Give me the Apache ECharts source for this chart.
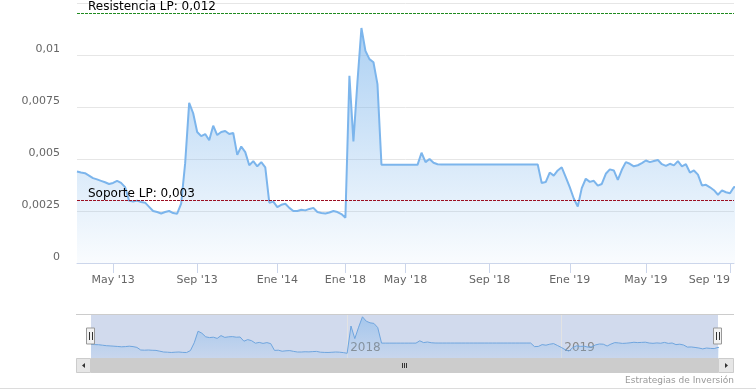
<!DOCTYPE html>
<html><head><meta charset="utf-8">
<script src="https://cdn.jsdelivr.net/npm/echarts@6/dist/echarts.min.js"></script>
<style>html,body{margin:0;padding:0;background:#fff}#c{width:756px;height:392px}</style>
</head><body><div id="c"></div>
<script>
// ---- data ----
const dates = [
 '2013-03-06','2013-03-12','2013-03-18','2013-03-24','2013-03-30','2013-04-05','2013-04-11','2013-04-17','2013-04-23','2013-05-01',
 '2013-05-07','2013-05-13','2013-05-19','2013-05-24','2013-05-30','2013-06-05','2013-06-11','2013-06-17','2013-06-23','2013-06-29',
 '2013-07-04','2013-07-10','2013-07-16','2013-07-22','2013-07-28','2013-08-03','2013-08-08','2013-08-14','2013-08-20','2013-08-26',
 '2013-09-01','2013-09-07','2013-09-13','2013-09-19','2013-09-25','2013-10-01','2013-10-07','2013-10-13','2013-10-19','2013-10-25',
 '2013-10-31','2013-11-06','2013-11-12','2013-11-18','2013-11-24','2013-11-30','2013-12-06','2013-12-12','2013-12-18','2013-12-24',
 '2014-01-01','2014-01-07','2014-01-13','2014-01-19','2014-01-25','2014-01-31','2014-02-06','2014-02-12','2014-02-18','2014-02-24',
 '2014-03-02','2014-03-08','2014-03-14','2014-03-20','2014-03-26','2014-04-01','2014-04-07',
 '2018-01-01','2018-01-09','2018-01-17','2018-01-25','2018-02-02','2018-02-10','2018-02-18','2018-02-26','2018-03-06','2018-03-14',
 '2018-03-22','2018-03-30','2018-04-07','2018-04-15','2018-04-23','2018-05-01',
 '2018-05-07','2018-05-13','2018-05-19','2018-05-25','2018-05-31','2018-06-06','2018-06-12','2018-06-18','2018-06-24','2018-06-30',
 '2018-07-06','2018-07-12','2018-07-18','2018-07-24','2018-07-30','2018-08-05','2018-08-11','2018-08-17','2018-08-23','2018-08-29',
 '2018-09-01','2018-09-07','2018-09-13','2018-09-19','2018-09-25','2018-10-01','2018-10-07','2018-10-13','2018-10-19','2018-10-25',
 '2018-10-31','2018-11-06','2018-11-12','2018-11-18','2018-11-24','2018-11-30','2018-12-06','2018-12-12','2018-12-18','2018-12-24',
 '2019-01-01','2019-01-07','2019-01-13','2019-01-19','2019-01-26','2019-02-01','2019-02-07','2019-02-13','2019-02-20','2019-02-26',
 '2019-03-04','2019-03-10','2019-03-17','2019-03-23','2019-03-29','2019-04-04','2019-04-11','2019-04-17','2019-04-23','2019-05-01',
 '2019-05-07','2019-05-13','2019-05-19','2019-05-25','2019-05-31','2019-06-06','2019-06-12','2019-06-18','2019-06-24','2019-06-30',
 '2019-07-06','2019-07-12','2019-07-18','2019-07-24','2019-07-30','2019-08-05','2019-08-11','2019-08-17','2019-08-23','2019-08-28',
 '2019-09-01','2019-09-05'
];
const values = [
 0.00440,0.00435,0.00432,0.00420,0.00408,0.00402,0.00395,0.00388,0.00380,0.00385,
 0.00395,0.00385,0.00365,0.00300,0.00295,0.00300,0.00293,0.00290,0.00270,0.00250,
 0.00245,0.00238,0.00245,0.00250,0.00240,0.00237,0.00285,0.00480,0.00770,0.00720,
 0.00630,0.00610,0.00620,0.00590,0.00660,0.00615,0.00630,0.00635,0.00620,0.00625,
 0.00520,0.00560,0.00533,0.00470,0.00490,0.00465,0.00485,0.00460,0.00290,0.00295,
 0.00269,0.00280,0.00285,0.00265,0.00250,0.00250,0.00256,0.00253,0.00260,0.00265,
 0.00245,0.00240,0.00238,0.00243,0.00250,0.00245,0.00235,
 0.00218,0.00900,0.00585,0.00870,0.01130,0.01020,0.00980,0.00965,0.00860,0.00472,
 0.00472,0.00472,0.00472,0.00472,0.00472,0.00472,
 0.00472,0.00472,0.00472,0.00530,0.00485,0.00500,0.00482,0.00475,0.00474,0.00474,
 0.00474,0.00474,0.00474,0.00474,0.00474,0.00474,0.00474,0.00474,0.00474,0.00474,
 0.00474,0.00474,0.00474,0.00474,0.00474,0.00474,0.00474,0.00474,0.00474,0.00474,
 0.00474,0.00474,0.00474,0.00385,0.00389,0.00435,0.00420,0.00445,0.00460,0.00413,
 0.00365,0.00310,0.00272,0.00360,0.00405,0.00390,0.00395,0.00372,0.00380,0.00429,
 0.00450,0.00445,0.00400,0.00448,0.00485,0.00477,0.00465,0.00470,0.00480,0.00493,
 0.00485,0.00490,0.00495,0.00475,0.00467,0.00477,0.00469,0.00490,0.00465,0.00475,
 0.00435,0.00445,0.00425,0.00373,0.00376,0.00364,0.00350,0.00328,0.00349,0.00340,
 0.00335,0.00365,0.00364,0.00365,0.00380
];
const tickDates = ['2013-05-01','2013-09-01','2014-01-01','2018-01-01','2018-05-01','2018-09-01','2019-01-01','2019-05-01','2019-09-01'];
const tickLabels = ["May '13","Sep '13","Ene '14","Ene '18","May '18","Sep '18","Ene '19","May '19","Sep '19"];
const yTickLabels = ['0','0,0025','0,005','0,0075','0,01'];
const navYearDates = ['2018-01-01','2019-01-01'];
const navYearLabels = ['2018','2019'];
const resistencia = 0.012, soporte = 0.003;
const resistenciaLabel = 'Resistencia LP: 0,012';
const soporteLabel = 'Soporte LP: 0,003';
const creditsText = 'Estrategias de Inversión';

// ---- chart ----
const FONT = 'DejaVu Sans';
const chart = echarts.init(document.getElementById('c'), null, {renderer: 'canvas'});
const areaGrad = new echarts.graphic.LinearGradient(0, 0, 0, 1, [
  {offset: 0, color: 'rgba(124,181,236,0.9)'},
  {offset: 1, color: 'rgba(124,181,236,0.06)'}
]);
const navGrad = new echarts.graphic.LinearGradient(0, 0, 0, 1, [
  {offset: 0, color: 'rgba(124,181,236,0.75)'},
  {offset: 1, color: 'rgba(124,181,236,0.15)'}
]);
const NAV_L = 91, NAV_R = 718, NAV_T = 314, NAV_B = 358, SB_B = 373, OUT_L = 76, OUT_R = 734;

function handle(cx) {
  return {type: 'group', z: 20, children: [
    {type: 'rect', shape: {x: cx - 4.5, y: 328, width: 8, height: 16}, style: {fill: '#f2f2f2', stroke: '#999', lineWidth: 1}, z: 20},
    {type: 'line', shape: {x1: cx - 1.5, y1: 332, x2: cx - 1.5, y2: 340}, style: {stroke: '#333', lineWidth: 1}, z: 21},
    {type: 'line', shape: {x1: cx + 1.5, y1: 332, x2: cx + 1.5, y2: 340}, style: {stroke: '#333', lineWidth: 1}, z: 21}
  ]};
}

const option = {
  animation: false,
  backgroundColor: '#fff',
  grid: [
    {left: 77, right: 22, top: 3, height: 260},
    {left: NAV_L, right: 756 - NAV_R, top: NAV_T, height: NAV_B - NAV_T}
  ],
  xAxis: [
    {type: 'category', gridIndex: 0, data: dates, boundaryGap: false,
     axisLine: {lineStyle: {color: '#ccd6eb', width: 1}},
     axisTick: {show: true, length: 10, interval: (i, v) => tickDates.includes(v), lineStyle: {color: '#ccd6eb'}},
     axisLabel: {interval: (i, v) => tickDates.includes(v), formatter: v => tickLabels[tickDates.indexOf(v)],
                 color: '#666', fontSize: 11, fontFamily: FONT, margin: 12, alignMaxLabel: 'right'},
     splitLine: {show: false}},
    {type: 'category', gridIndex: 1, data: dates, boundaryGap: false,
     axisLine: {show: false}, axisTick: {show: false},
     axisLabel: {inside: true, interval: (i, v) => navYearDates.includes(v), formatter: v => navYearLabels[navYearDates.indexOf(v)],
                 align: 'left', verticalAlign: 'bottom', margin: 4, padding: [0, 0, 0, 3],
                 color: '#888', fontSize: 12, fontFamily: FONT},
     splitLine: {show: true, interval: (i, v) => navYearDates.includes(v), lineStyle: {color: '#e3e3e3'}}}
  ],
  yAxis: [
    {type: 'value', gridIndex: 0, min: 0, max: 0.0125, interval: 0.0025,
     axisLine: {show: false}, axisTick: {show: false},
     splitLine: {lineStyle: {color: '#e6e6e6'}},
     axisLabel: {showMaxLabel: false, formatter: v => yTickLabels[Math.round(v / 0.0025)] || '',
                 color: '#666', fontSize: 11, fontFamily: FONT, margin: 17, verticalAlign: 'bottom'}},
    {type: 'value', gridIndex: 1, min: 0.001, max: 0.012, show: false}
  ],
  series: [
    {type: 'line', xAxisIndex: 0, yAxisIndex: 0, data: values, symbol: 'none', z: 3,
     lineStyle: {color: '#7cb5ec', width: 2}, areaStyle: {color: areaGrad},
     markLine: {symbol: 'none', silent: true, animation: false, precision: 6,
       label: {position: 'insideStartTop', distance: [11, 1], color: '#000', fontSize: 12, fontFamily: FONT},
       data: [
         {yAxis: resistencia, lineStyle: {color: '#1f8a1f', type: [3, 1], width: 1}, label: {formatter: resistenciaLabel}},
         {yAxis: soporte, lineStyle: {color: '#9b1023', type: [3, 1], width: 1}, label: {formatter: soporteLabel}}
       ]}},
    {type: 'line', xAxisIndex: 1, yAxisIndex: 1, data: values, symbol: 'none', silent: true, z: 3,
     lineStyle: {color: '#6fa5de', width: 1}, areaStyle: {color: navGrad}}
  ],
  graphic: [
    {type: 'rect', z: 0, silent: true, shape: {x: NAV_L, y: NAV_T, width: NAV_R - NAV_L, height: NAV_B - NAV_T},
     style: {fill: 'rgba(102,133,194,0.3)'}},
    {type: 'line', z: 5, silent: true, shape: {x1: OUT_L, y1: NAV_T + 0.5, x2: OUT_R, y2: NAV_T + 0.5}, style: {stroke: '#cccccc', lineWidth: 1}},
    // scrollbar
    {type: 'rect', z: 5, silent: true, shape: {x: OUT_L, y: NAV_B, width: OUT_R - OUT_L, height: SB_B - NAV_B}, style: {fill: '#f2f2f2'}},
    {type: 'rect', z: 6, silent: true, shape: {x: NAV_L, y: NAV_B, width: NAV_R - NAV_L, height: SB_B - NAV_B}, style: {fill: '#cccccc'}},
    {type: 'rect', z: 6, silent: true, shape: {x: OUT_L + 0.5, y: NAV_B + 0.5, width: NAV_L - OUT_L - 1, height: SB_B - NAV_B - 1}, style: {fill: '#e6e6e6', stroke: '#cccccc'}},
    {type: 'rect', z: 6, silent: true, shape: {x: NAV_R + 0.5, y: NAV_B + 0.5, width: OUT_R - NAV_R - 1, height: SB_B - NAV_B - 1}, style: {fill: '#e6e6e6', stroke: '#cccccc'}},
    {type: 'polygon', z: 7, silent: true, shape: {points: [[85, 363], [85, 368], [82, 365.5]]}, style: {fill: '#333'}},
    {type: 'polygon', z: 7, silent: true, shape: {points: [[725, 363], [725, 368], [728, 365.5]]}, style: {fill: '#333'}},
    {type: 'line', z: 7, silent: true, shape: {x1: 402.5, y1: 363, x2: 402.5, y2: 368}, style: {stroke: '#333', lineWidth: 1}},
    {type: 'line', z: 7, silent: true, shape: {x1: 404.5, y1: 363, x2: 404.5, y2: 368}, style: {stroke: '#333', lineWidth: 1}},
    {type: 'line', z: 7, silent: true, shape: {x1: 406.5, y1: 363, x2: 406.5, y2: 368}, style: {stroke: '#333', lineWidth: 1}},
    handle(NAV_L), handle(NAV_R),
    {type: 'text', z: 5, silent: true, style: {text: creditsText, x: 734, y: 381, align: 'right', verticalAlign: 'middle',
     fill: '#999', fontSize: 9, fontFamily: FONT}},
    {type: 'line', z: 5, silent: true, shape: {x1: 0, y1: 388.5, x2: 756, y2: 388.5}, style: {stroke: '#dcdcdc', lineWidth: 1}}
  ]
};
chart.setOption(option);
</script>
</body></html>
